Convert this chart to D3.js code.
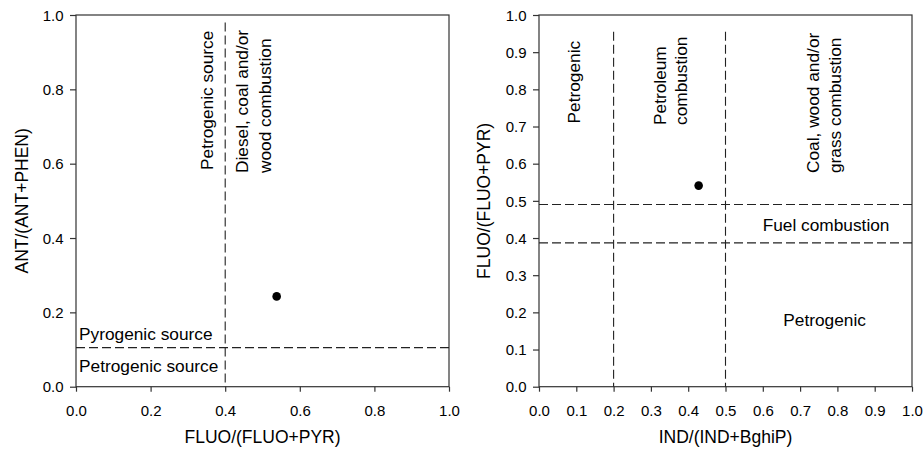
<!DOCTYPE html>
<html>
<head>
<meta charset="utf-8">
<script src="https://cdn.jsdelivr.net/npm/d3@7"></script>
<style>
  html, body { margin: 0; padding: 0; background: #fff; }
  svg { display: block; }
  text { font-family: Arial, "Liberation Sans", sans-serif; fill: #000; }
</style>
</head>
<body>
<svg id="chart" width="923" height="452"></svg>
<script>
// ---------- data ----------
const leftXTicks = [0, 0.2, 0.4, 0.6, 0.8, 1.0];
const leftYTicks = [0, 0.2, 0.4, 0.6, 0.8, 1.0];
const rightXTicks = [0, 0.1, 0.2, 0.3, 0.4, 0.5, 0.6, 0.7, 0.8, 0.9, 1.0];
const rightYTicks = [0, 0.1, 0.2, 0.3, 0.4, 0.5, 0.6, 0.7, 0.8, 0.9, 1.0];

const leftXTitle = "FLUO/(FLUO+PYR)";
const leftYTitle = "ANT/(ANT+PHEN)";
const rightXTitle = "IND/(IND+BghiP)";
const rightYTitle = "FLUO/(FLUO+PYR)";

const leftPoints = [{ x: 0.538, y: 0.243 }];
const rightPoints = [{ x: 0.428, y: 0.541 }];

// threshold lines: vertical at x (from 0 up to yTop), horizontal at y
const leftVLines = [{ x: 0.4, yTop: 0.98 }];
const leftHLines = [{ y: 0.105 }];
const rightVLines = [{ x: 0.2, yTop: 0.955 }, { x: 0.5, yTop: 0.955 }];
const rightHLines = [{ y: 0.49 }, { y: 0.387 }];

// ---------- layout ----------
const svg = d3.select("#chart");
const TOP = 15, BOTTOM = 386.7;
const FONT_TICK = 15, FONT_TITLE = 17.5, FONT_NOTE = 17.3;

function panel(x0, x1, xTicks, yTicks, xTitle, yTitle, yTitleX, points, vLines, hLines) {
  const x = d3.scaleLinear().domain([0, 1]).range([x0, x1]);
  const y = d3.scaleLinear().domain([0, 1]).range([BOTTOM, TOP]);
  const g = svg.append("g");

  // frame
  g.append("rect")
    .attr("x", x0).attr("y", TOP)
    .attr("width", x1 - x0).attr("height", BOTTOM - TOP)
    .attr("fill", "none").attr("stroke", "#333").attr("stroke-width", 1.2);

  // axes
  const xa = g.append("g").attr("transform", `translate(0,${BOTTOM})`)
    .call(d3.axisBottom(x).tickValues(xTicks).tickFormat(d3.format(".1f")).tickSize(5).tickSizeOuter(0));
  xa.select(".domain").remove();
  xa.selectAll(".tick line").attr("stroke", "#333").attr("stroke-width", 1.2);
  xa.selectAll(".tick text").attr("y", 19).attr("dy", "0.71em")
    .style("font-size", FONT_TICK + "px").style("font-family", "Arial, 'Liberation Sans', sans-serif").attr("fill", "#000");

  const ya = g.append("g").attr("transform", `translate(${x0},0)`)
    .call(d3.axisLeft(y).tickValues(yTicks).tickFormat(d3.format(".1f")).tickSize(6).tickSizeOuter(0));
  ya.select(".domain").remove();
  ya.selectAll(".tick line").attr("stroke", "#333").attr("stroke-width", 1.2);
  ya.selectAll(".tick text").attr("x", -12.5).attr("dy", "0.35em")
    .style("font-size", FONT_TICK + "px").style("font-family", "Arial, 'Liberation Sans', sans-serif").attr("fill", "#000");

  // threshold lines
  g.selectAll(".vl").data(vLines).enter().append("line")
    .attr("x1", d => x(d.x)).attr("x2", d => x(d.x))
    .attr("y1", d => y(d.yTop)).attr("y2", y(0))
    .attr("stroke", "#222").attr("stroke-width", 1.1).attr("stroke-dasharray", "9,4");
  g.selectAll(".hl").data(hLines).enter().append("line")
    .attr("x1", x(0)).attr("x2", x(1))
    .attr("y1", d => y(d.y)).attr("y2", d => y(d.y))
    .attr("stroke", "#222").attr("stroke-width", 1.1).attr("stroke-dasharray", "9,4");

  // points
  g.selectAll(".pt").data(points).enter().append("circle")
    .attr("cx", d => x(d.x)).attr("cy", d => y(d.y)).attr("r", 4.3).attr("fill", "#000");

  // titles
  g.append("text").attr("x", (x0 + x1) / 2).attr("y", 443)
    .attr("text-anchor", "middle").style("font-size", FONT_TITLE + "px").text(xTitle);
  g.append("text").attr("transform", `translate(${yTitleX},${(TOP + BOTTOM) / 2}) rotate(-90)`)
    .attr("text-anchor", "middle").style("font-size", FONT_TITLE + "px").text(yTitle);

  return { x, y, g };
}

const L = panel(76, 449, leftXTicks, leftYTicks, leftXTitle, leftYTitle, 28, leftPoints, leftVLines, leftHLines);
const R = panel(539, 912, rightXTicks, rightYTicks, rightXTitle, rightYTitle, 490, rightPoints, rightVLines, rightHLines);

// ---------- annotations ----------
function note(g, px, py, txt, rotate, anchor) {
  const t = g.append("text").style("font-size", FONT_NOTE + "px").text(txt);
  if (rotate) t.attr("transform", `translate(${px},${py}) rotate(-90)`).attr("text-anchor", anchor || "start");
  else t.attr("x", px).attr("y", py).attr("text-anchor", anchor || "start");
}

// left panel
note(L.g, 79, 340, "Pyrogenic source");
note(L.g, 79, 371.5, "Petrogenic source");
note(L.g, 213, 170, "Petrogenic source", true);
note(L.g, 248, 173, "Diesel, coal and/or", true);
note(L.g, 270.5, 173, "wood combustion", true);

// right panel
note(R.g, 579.5, 123.5, "Petrogenic", true);
note(R.g, 665.5, 125, "Petroleum", true);
note(R.g, 687, 125, "combustion", true);
note(R.g, 819, 173, "Coal, wood and/or", true);
note(R.g, 840.5, 173, "grass combustion", true);
note(R.g, 762.7, 231, "Fuel combustion");
note(R.g, 783.3, 326, "Petrogenic");
</script>
</body>
</html>
